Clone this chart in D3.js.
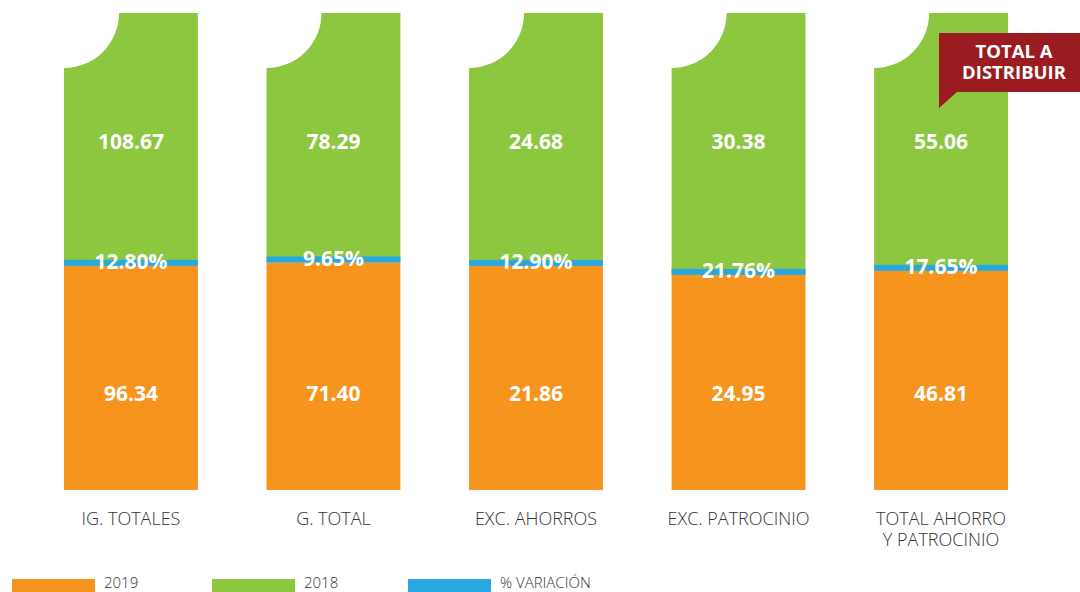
<!DOCTYPE html>
<html>
<head>
<meta charset="utf-8">
<script src="https://cdn.jsdelivr.net/npm/d3@7"></script>
<style>
body { margin: 0; background: #fff; }
svg { display: block; }
</style>
</head>
<body>
<script>
// datos
var categories = ['IG. TOTALES', 'G. TOTAL', 'EXC. AHORROS', 'EXC. PATROCINIO', 'TOTAL AHORRO|Y PATROCINIO'];
var values2019 = [96.34, 71.40, 21.86, 24.95, 46.81];
var values2018 = [108.67, 78.29, 24.68, 30.38, 55.06];
var variacion = ['12.80%', '9.65%', '12.90%', '21.76%', '17.65%'];
var legendLabels = ['2019', '2018', '% VARIACIÓN'];

var WIDTH = 1080;
var HEIGHT = 592;
var ORANGE = '#F7941E', GREEN = '#8DC63F', BLUE = '#29A8E0', RED = '#9B1C20';

var rows = categories.map(function(c, i){
  return {cat: c, y2019: values2019[i], y2018: values2018[i], pct: variacion[i]};
});

var svg = d3.select('body')
.append('svg')
.attr('width', WIDTH)
.attr('height', HEIGHT);

var x = d3.scaleBand()
.domain(categories)
.range([64, 1008])
.paddingInner(0.339)
.paddingOuter(0);

var y = d3.scaleLinear()
.domain([0, 1])
.range([490, 13]);

var stack = d3.stack()
.keys(['y2019', 'y2018'])
.offset(d3.stackOffsetExpand);
var series = stack(rows);

var colors = {y2019: ORANGE, y2018: GREEN};

// cortes circulares en la esquina superior izquierda de cada barra
var defs = svg.append('defs');
categories.forEach(function(c, i){
  var cp = defs.append('mask').attr('id', 'cut' + i);
  cp.append('rect').attr('x', 0).attr('y', 0).attr('width', WIDTH).attr('height', HEIGHT).attr('fill', '#fff');
  cp.append('circle').attr('cx', x(c)).attr('cy', y(1)).attr('r', 55).attr('fill', '#000');
});

var groups = svg.selectAll('g.serie')
.data(series)
.enter()
.append('g')
.attr('class', 'serie')
.attr('fill', function(d){return colors[d.key];});

groups.selectAll('rect')
.data(function(d){return d;})
.enter()
.append('rect')
.attr('x', function(d){return x(d.data.cat);})
.attr('width', x.bandwidth())
.attr('y', function(d){return y(d[1]);})
.attr('height', function(d){return y(d[0]) - y(d[1]);})
.attr('mask', function(d, i){return 'url(#cut' + i + ')';});

// franja de variacion
svg.selectAll('rect.var')
.data(series[0])
.enter()
.append('rect')
.attr('class', 'var')
.attr('x', function(d){return x(d.data.cat);})
.attr('width', x.bandwidth())
.attr('y', function(d){return y(d[1]) - 6;})
.attr('height', 6)
.attr('fill', BLUE);

var labelFont = '"Open Sans", sans-serif';

svg.selectAll('text.v18')
.data(rows)
.enter()
.append('text')
.attr('x', function(d){return x(d.cat) + x.bandwidth() / 2;})
.attr('y', y(0.731))
.attr('dy', '0.35em')
.attr('text-anchor', 'middle')
.attr('fill', '#fff')
.style('font', 'bold 21px ' + labelFont)
.text(function(d){return d.y2018.toFixed(2);});

svg.selectAll('text.v19')
.data(rows)
.enter()
.append('text')
.attr('x', function(d){return x(d.cat) + x.bandwidth() / 2;})
.attr('y', y(0.203))
.attr('dy', '0.35em')
.attr('text-anchor', 'middle')
.attr('fill', '#fff')
.style('font', 'bold 21px ' + labelFont)
.text(function(d){return d.y2019.toFixed(2);});

svg.selectAll('text.pct')
.data(series[0])
.enter()
.append('text')
.attr('x', function(d){return x(d.data.cat) + x.bandwidth() / 2;})
.attr('y', function(d){return y(d[1]) - 4;})
.attr('dy', '0.35em')
.attr('text-anchor', 'middle')
.attr('fill', '#fff')
.style('font', 'bold 21px ' + labelFont)
.text(function(d){return d.data.pct;});

// etiquetas de categoria
var catText = svg.selectAll('text.cat')
.data(categories)
.enter()
.append('text')
.attr('x', function(d){return x(d) + x.bandwidth() / 2;})
.attr('y', 519)
.attr('text-anchor', 'middle')
.attr('fill', '#333')
.style('font', '300 18px ' + labelFont);

catText.selectAll('tspan')
.data(function(d){return d.split('|');})
.enter()
.append('tspan')
.attr('x', function(){return d3.select(this.parentNode).attr('x');})
.attr('dy', function(d, i){return i === 0 ? '0.35em' : '21';})
.text(function(d){return d;});

// llamada "TOTAL A DISTRIBUIR"
var call = svg.append('g');
call.append('path')
.attr('d', 'M939,33 H1080 V92 H957 L939,108 Z')
.attr('fill', RED);
call.append('text')
.attr('x', 1014)
.attr('y', 52)
.attr('dy', '0.35em')
.attr('text-anchor', 'middle')
.attr('fill', '#fff')
.style('font', 'bold 18.5px ' + labelFont)
.text('TOTAL A');
call.append('text')
.attr('x', 1014)
.attr('y', 73)
.attr('dy', '0.35em')
.attr('text-anchor', 'middle')
.attr('fill', '#fff')
.style('font', 'bold 18.5px ' + labelFont)
.text('DISTRIBUIR');

// leyenda
var legend = svg.selectAll('g.leg')
.data(legendLabels)
.enter()
.append('g')
.attr('class', 'leg')
.attr('transform', function(d, i){return 'translate(' + [12, 212, 408][i] + ',0)';});

legend.append('rect')
.attr('x', 0)
.attr('y', 579)
.attr('width', 83)
.attr('height', 16)
.attr('fill', function(d, i){return [ORANGE, GREEN, BLUE][i];});

legend.append('text')
.attr('x', 92)
.attr('y', 583)
.attr('dy', '0.35em')
.attr('fill', '#333')
.style('font', '300 15px ' + labelFont)
.text(function(d){return d;});
</script>
</body>
</html>
